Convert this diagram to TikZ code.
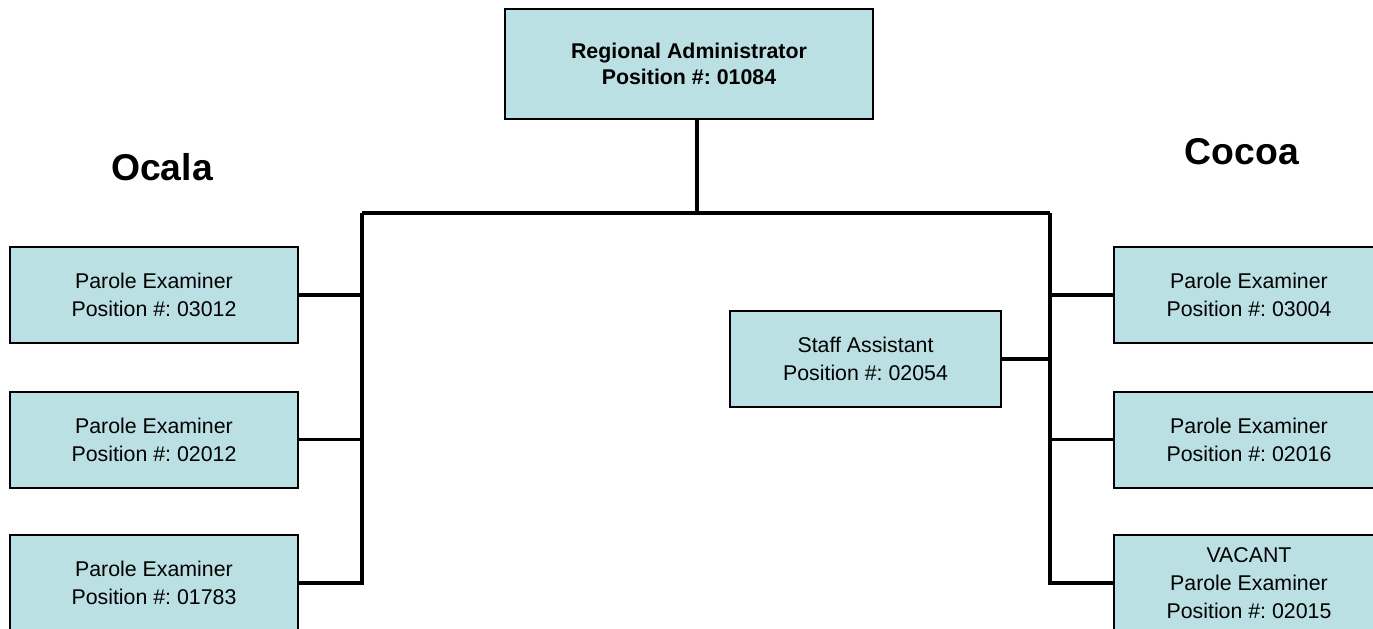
\documentclass[tikz,border=0pt]{standalone}
\usepackage{fontspec}
\setmainfont{Liberation Sans}
\frenchspacing
\definecolor{boxblue}{RGB}{187,224,227}
\begin{document}
\begin{tikzpicture}[x=0.75pt,y=-0.75pt,
    post/.style={draw,line width=1.5pt,fill=boxblue,align=center,
        font=\fontsize{16}{21}\selectfont,minimum height=72pt,inner sep=0pt},
    link/.style={line width=2.4pt}]
    \useasboundingbox (0,0) rectangle (1373,628);
    \clip (0,0) rectangle (1373,628);
    % Kopf
    \node[post,minimum width=276pt,minimum height=83pt,font=\fontsize{16}{20}\selectfont\bfseries] (ra) at (689,64) {Regional Administrator\\Position \#: 01084};
    \node[font=\fontsize{28}{34}\selectfont\bfseries] (ocala) at (162,167) {Ocala};
    \node[font=\fontsize{28}{34}\selectfont\bfseries] (cocoa) at (1242,152) {Cocoa};
    % Ocala
    \node[post,minimum width=216pt] (o1) at (154,295) {Parole Examiner\\Position \#: 03012};
    \node[post,minimum width=216pt] (o2) at (154,439.5) {Parole Examiner\\Position \#: 02012};
    \node[post,minimum width=216pt] (o3) at (154,583) {Parole Examiner\\Position \#: 01783};
    % Cocoa
    \node[post,minimum width=203pt] (c1) at (1249,295) {Parole Examiner\\Position \#: 03004};
    \node[post,minimum width=203pt] (c2) at (1249,439.5) {Parole Examiner\\Position \#: 02016};
    \node[post,minimum width=203pt] (c3) at (1249,583) {VACANT\\Parole Examiner\\Position \#: 02015};
    \node[post,minimum width=203pt] (sa) at (865.5,359) {Staff Assistant\\Position \#: 02054};
    % Linien
    \coordinate (hub) at (697,213);
    \coordinate (lbus) at (362,213);
    \coordinate (rbus) at (1050,213);
    \draw[link] (ra.south -| hub) -- (hub);
    \draw[link] (lbus) -- (rbus);
    \draw[link] (lbus) |- (o3.east);
    \draw[link] (o1.east) -- (o1.east -| lbus);
    \draw[link] (o2.east) -- (o2.east -| lbus);
    \draw[link] (rbus) |- (c3.west);
    \draw[link] (c1.west) -- (c1.west -| rbus);
    \draw[link] (c2.west) -- (c2.west -| rbus);
    \draw[link] (sa.east) -- (sa.east -| rbus);
\end{tikzpicture}
\end{document}
